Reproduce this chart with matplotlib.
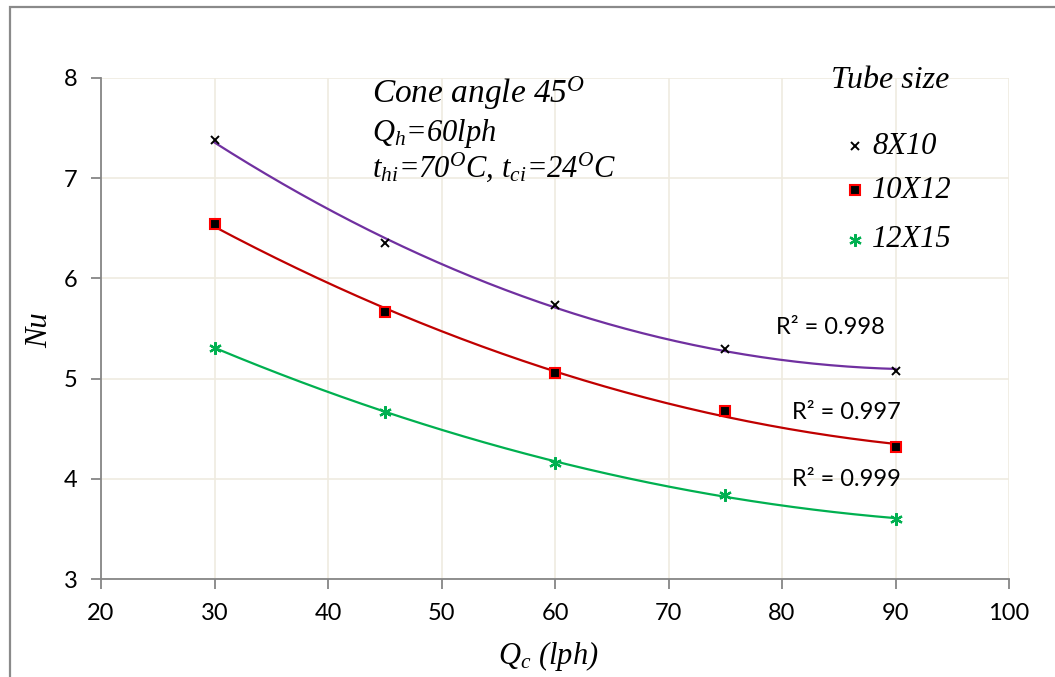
import numpy as np
import matplotlib
matplotlib.use("Agg")
import matplotlib.pyplot as plt
from matplotlib.patches import Rectangle
from matplotlib.lines import Line2D

plt.rcParams['mathtext.fontset'] = 'custom'
plt.rcParams['mathtext.it'] = 'Liberation Serif:italic'
plt.rcParams['mathtext.rm'] = 'Liberation Serif:italic'

qc = [30, 45, 60, 75, 90]
nu_8x10 = [7.38, 6.35, 5.73, 5.30, 5.08]
nu_10x12 = [6.54, 5.66, 5.06, 4.68, 4.32]
nu_12x15 = [5.31, 4.67, 4.16, 3.84, 3.60]
series_names = ["8X10", "10X12", "12X15"]
r2_labels = ["R² = 0.998", "R² = 0.997", "R² = 0.999"]

serif = "Liberation Serif"
sans = "Lato"

W, H = 1055, 677
fig = plt.figure(figsize=(W / 100, H / 100), dpi=100)


def fx(px):
    return px / W


def fy(py):
    return 1 - py / H


fig.patches.append(Rectangle((fx(10), -0.1), 1.2, fy(7) + 0.1, transform=fig.transFigure,
                             fill=False, edgecolor="#8a8a8a", linewidth=1.6, zorder=0))
ax = fig.add_axes([fx(101), fy(579), 908 / W, 501 / H])

ax.set_xlim(20, 100)
ax.set_ylim(3, 8)
ax.set_xticks(range(20, 101, 10))
ax.set_yticks(range(3, 9))
ax.grid(True, color="#efebe0", linewidth=1.2)
ax.set_axisbelow(True)
for s in ["top", "right"]:
    ax.spines[s].set_visible(False)
for s in ["left", "bottom"]:
    ax.spines[s].set_color("#868686")
    ax.spines[s].set_linewidth(1.3)
ax.tick_params(axis="both", direction="out", length=7, width=1.3, color="#868686",
               labelsize=17, pad=10)
for lab in ax.get_xticklabels() + ax.get_yticklabels():
    lab.set_fontfamily(sans)

xs = np.linspace(30, 90, 200)
colors = ["#7030a0", "#c00000", "#00b050"]
datas = [nu_8x10, nu_10x12, nu_12x15]
for d, c in zip(datas, colors):
    p = np.polyfit(qc, d, 2)
    ax.plot(xs, np.polyval(p, xs), color=c, linewidth=1.6, zorder=2)

mk = [dict(marker="x", color="black", markersize=6, markeredgewidth=1.4),
      dict(marker="s", markerfacecolor="black", markeredgecolor="#ff0000",
           markersize=7, markeredgewidth=1.5),
      dict(marker=(6, 2, 0), color="#00b050", markersize=9, markeredgewidth=1.6)]
for d, m in zip(datas, mk):
    ax.plot(qc, d, linestyle="none", zorder=3, **m)

fig.text(fx(830), fy(328), r2_labels[0], fontsize=17, family=sans, ha="center", va="center")
fig.text(fx(846), fy(412), r2_labels[1], fontsize=17, family=sans, ha="center", va="center")
fig.text(fx(846), fy(480), r2_labels[2], fontsize=17, family=sans, ha="center", va="center")

# legend (manual)
fig.text(fx(831), fy(80), "Tube size", fontsize=23, family=serif, style="italic",
         ha="left", va="center")
leg_y = [146, 190, 240]
for name, m, yy in zip(series_names, mk, leg_y):
    fig.add_artist(Line2D([fx(855)], [fy(yy)], transform=fig.transFigure, linestyle="none", **m))
    fig.text(fx(872), fy(yy), name, fontsize=22, family=serif, style="italic",
             ha="left", va="center")

fig.text(fx(372), fy(103), r"Cone angle 45$^{O}$", fontsize=24, family=serif, style="italic")
fig.text(fx(372), fy(141), r"Q$_{h}$=60lph", fontsize=22, family=serif, style="italic")
fig.text(fx(372), fy(177), r"t$_{hi}$=70$^{O}$C, t$_{ci}$=24$^{O}$C", fontsize=22,
         family=serif, style="italic")

fig.text(fx(40), fy(330), "Nu", fontsize=22, family=serif, style="italic",
         rotation=90, ha="center", va="center")
fig.text(fx(548), fy(656), r"Q$_{c}$ (lph)", fontsize=22, family=serif, style="italic",
         ha="center", va="center")

fig.savefig("out.png", dpi=100)
